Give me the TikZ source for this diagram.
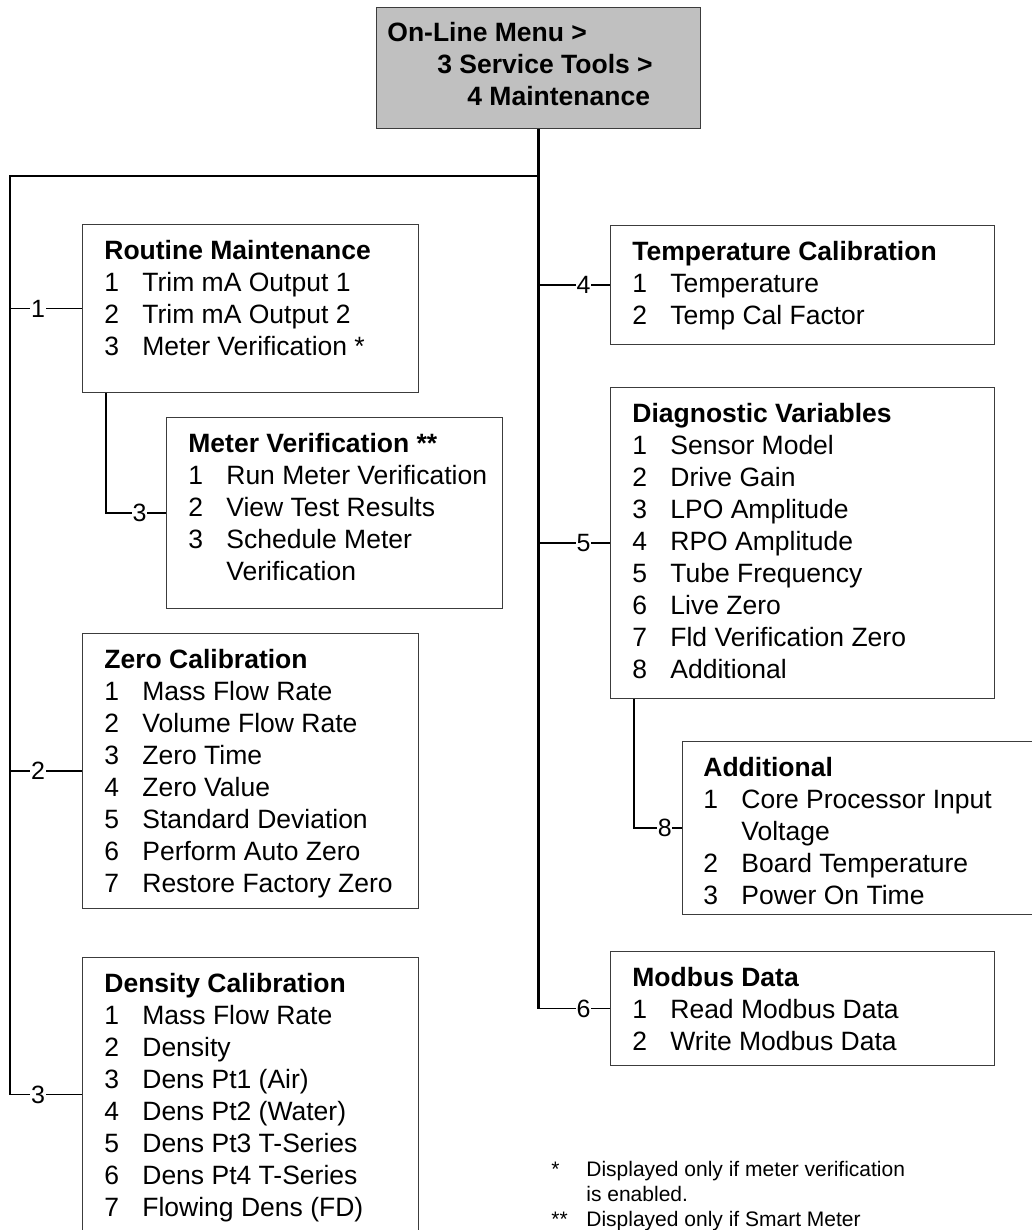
\documentclass[tikz,border=0pt]{standalone}
\usepackage{fontspec}
\setmainfont{Liberation Sans}
\usetikzlibrary{positioning}
\definecolor{hdrgray}{RGB}{192,192,192}
\definecolor{edgegray}{RGB}{60,60,60}
\newcommand{\mitem}[2]{\makebox[19pt][l]{#1}#2}
\tikzset{
  menubox/.style={draw=edgegray,line width=0.6pt,anchor=north west,inner sep=0pt},
  rootbox/.style={menubox,fill=hdrgray},
  txt/.style={anchor=north west,inner sep=0pt,align=left,font=\fontsize{13.25}{16}\selectfont},
  bus/.style={line width=1.2pt},
  br/.style={line width=0.65pt},
  elb/.style={line width=0.9pt},
  lbl/.style={font=\fontsize{12.5}{14}\selectfont,fill=white,inner xsep=0.4pt,inner ysep=1pt},
  note/.style={anchor=north west,inner sep=0pt,align=left,font=\fontsize{10.5}{12.5}\selectfont}
}

\begin{document}
\begin{tikzpicture}[x=0.5pt,y=-0.5pt]
\clip (0,0) rectangle (1032,1230);

% boxes
\node[rootbox,minimum width=162pt,minimum height=60.5pt] (top) at (376,7) {};
\node[menubox,minimum width=168pt,minimum height=84pt] (rtn) at (82,224) {};
\node[menubox,minimum width=168pt,minimum height=95.5pt] (mtr) at (166,417) {};
\node[menubox,minimum width=168pt,minimum height=137.5pt] (zro) at (82,633) {};
\node[menubox,minimum width=168pt,minimum height=137pt] (den) at (82,957) {};
\node[menubox,minimum width=192pt,minimum height=59.5pt] (tmp) at (610,225) {};
\node[menubox,minimum width=192pt,minimum height=155.5pt] (dia) at (610,387) {};
\node[menubox,minimum width=192pt,minimum height=86.5pt] (add) at (682,741) {};
\node[menubox,minimum width=192pt,minimum height=57pt] (mod) at (610,951) {};

% box texts
\node[txt,font=\fontsize{13.25}{16}\selectfont\bfseries,below right=7.25pt and 5.5pt of top.north west] (topT)
  {On-Line Menu >\\\hspace*{25pt}3 Service Tools >\\\hspace*{40pt}4 Maintenance};
\node[txt,below right=7.75pt and 11pt of rtn.north west] (rtnT)
  {\textbf{Routine Maintenance}\\\mitem{1}{Trim mA Output 1}\\\mitem{2}{Trim mA Output 2}\\\mitem{3}{Meter Verification *}};
\node[txt,below right=7.75pt and 11pt of mtr.north west] (mtrT)
  {\textbf{Meter Verification **}\\\mitem{1}{Run Meter Verification}\\\mitem{2}{View Test Results}\\\mitem{3}{Schedule Meter}\\\mitem{}{Verification}};
\node[txt,below right=7.75pt and 11pt of zro.north west] (zroT)
  {\textbf{Zero Calibration}\\\mitem{1}{Mass Flow Rate}\\\mitem{2}{Volume Flow Rate}\\\mitem{3}{Zero Time}\\\mitem{4}{Zero Value}\\\mitem{5}{Standard Deviation}\\\mitem{6}{Perform Auto Zero}\\\mitem{7}{Restore Factory Zero}};
\node[txt,below right=7.75pt and 11pt of den.north west] (denT)
  {\textbf{Density Calibration}\\\mitem{1}{Mass Flow Rate}\\\mitem{2}{Density}\\\mitem{3}{Dens Pt1 (Air)}\\\mitem{4}{Dens Pt2 (Water)}\\\mitem{5}{Dens Pt3 T-Series}\\\mitem{6}{Dens Pt4 T-Series}\\\mitem{7}{Flowing Dens (FD)}};
\node[txt,below right=7.75pt and 11pt of tmp.north west] (tmpT)
  {\textbf{Temperature Calibration}\\\mitem{1}{Temperature}\\\mitem{2}{Temp Cal Factor}};
\node[txt,below right=7.75pt and 11pt of dia.north west] (diaT)
  {\textbf{Diagnostic Variables}\\\mitem{1}{Sensor Model}\\\mitem{2}{Drive Gain}\\\mitem{3}{LPO Amplitude}\\\mitem{4}{RPO Amplitude}\\\mitem{5}{Tube Frequency}\\\mitem{6}{Live Zero}\\\mitem{7}{Fld Verification Zero}\\\mitem{8}{Additional}};
\node[txt,below right=7.75pt and 10.5pt of add.north west] (addT)
  {\textbf{Additional}\\\mitem{1}{Core Processor Input}\\\mitem{}{Voltage}\\\mitem{2}{Board Temperature}\\\mitem{3}{Power On Time}};
\node[txt,below right=7.75pt and 11pt of mod.north west] (modT)
  {\textbf{Modbus Data}\\\mitem{1}{Read Modbus Data}\\\mitem{2}{Write Modbus Data}};

% bus lines
\coordinate (jn) at (538,176);
\coordinate (lt) at (10,176);
\draw[bus] (top.south) -- (top.south |- mod.west);
\draw[bus] (jn) -- (lt) -- (lt |- den.west);

% branches
\draw[br] (lt |- rtn.west) -- node[lbl,pos=.39] (n1) {1} (rtn.west);
\draw[br] (lt |- zro.west) -- node[lbl,pos=.39] (n2) {2} (zro.west);
\draw[br] (lt |- den.west) -- node[lbl,pos=.39] (n3) {3} (den.west);
\draw[br] (top.south |- tmp.west) -- node[lbl,pos=.63] (n4) {4} (tmp.west);
\draw[br] (top.south |- dia.west) -- node[lbl,pos=.63] (n5) {5} (dia.west);
\draw[br] (top.south |- mod.west) -- node[lbl,pos=.63] (n6) {6} (mod.west);
\draw[elb] (rtn.south west) ++(24,0) |- node[lbl,pos=.78] (n13) {3} (mtr.west);
\draw[elb] (dia.south west) ++(24,0) |- node[lbl,pos=.82] (n58) {8} (add.west);

% footnotes
\node[note] (fn) at (551,1160.5)
  {\makebox[17.5pt][l]{*}Displayed only if meter verification\\\hspace*{17.5pt}is enabled.\\\makebox[17.5pt][l]{**}Displayed only if Smart Meter};
\end{tikzpicture}
\end{document}
